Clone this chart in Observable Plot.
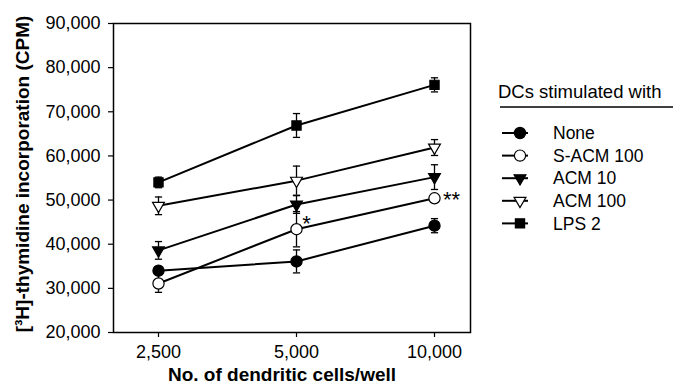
<!DOCTYPE html>
<html>
<head>
<meta charset="utf-8">
<script src="https://cdn.jsdelivr.net/npm/d3@7"></script>
<script src="https://cdn.jsdelivr.net/npm/@observablehq/plot@0.6"></script>
<style>
  html, body { margin: 0; padding: 0; background: white; }
</style>
</head>
<body>
<div id="chart"></div>
<script>
// ---- data ----
const doses = [2500, 5000, 10000];
const doseLabels = ["2,500", "5,000", "10,000"];
const yTicks = [20000, 30000, 40000, 50000, 60000, 70000, 80000, 90000];
const seriesNames = ["None", "S-ACM 100", "ACM 10", "ACM 100", "LPS 2"];

const noneVals = [34000, 36100, 44200];
const noneErr = [800, 2600, 1600];
const sacm100Vals = [31100, 43400, 50400];
const sacm100Err = [2000, 4000, 700];
const acm10Vals = [38600, 49000, 55200];
const acm10Err = [2000, 2000, 2800];
const acm100Vals = [48700, 54400, 61900];
const acm100Err = [2000, 3300, 1800];
const lps2Vals = [54000, 66900, 76100];
const lps2Err = [1200, 2700, 1600];

const sigLabels = ["", "*", "**"]; // S-ACM 100 significance marks

const yTitle = "[³H]-thymidine incorporation (CPM)";
const xTitle = "No. of dendritic cells/well";
const legendTitle = "DCs stimulated with";

// ---- styles per series ----
const shapes = ["circle", "circle", "triangle", "triangle", "square"];
const filled = [true, false, true, false, true];
const rotations = [0, 0, 180, 180, 0];
const radii = [5.6, 5.6, 4.4, 4.4, 5.2];

const allVals = [noneVals, sacm100Vals, acm10Vals, acm100Vals, lps2Vals];
const allErr = [noneErr, sacm100Err, acm10Err, acm100Err, lps2Err];

const rows = [];
seriesNames.forEach((s, si) => {
  doses.forEach((d, di) => {
    rows.push({
      dose: d, series: s, si,
      value: allVals[si][di],
      lo: allVals[si][di] - allErr[si][di],
      hi: allVals[si][di] + allErr[si][di]
    });
  });
});
const sigRows = doses.map((d, i) => ({dose: d, value: sacm100Vals[i], label: sigLabels[i]}))
  .filter(r => r.label !== "");

const capSymbol = {
  draw(context, size) {
    const w = Math.sqrt(size / Math.PI);
    context.moveTo(-w, 0);
    context.lineTo(w, 0);
  }
};

const FONT = "'Liberation Sans', Arial, Helvetica, sans-serif";

const markMarks = seriesNames.map((s, si) =>
  Plot.dot(rows.filter(r => r.si === si), {
    x: "dose", y: "value",
    symbol: shapes[si],
    r: radii[si],
    rotate: rotations[si],
    fill: filled[si] ? "black" : "white",
    stroke: "black",
    strokeWidth: 1.2
  })
);

const plot = Plot.plot({
  width: 673,
  height: 388,
  marginLeft: 113,
  marginRight: 203,
  marginTop: 23,
  marginBottom: 56,
  style: {fontFamily: FONT, fontSize: "18px", color: "black", background: "white"},
  x: {type: "point", domain: doses, range: [157, 434], padding: 0, label: null},
  y: {domain: [20000, 90000], label: null},
  marks: [
    Plot.axisY({ticks: yTicks, tickSize: 5, tickPadding: 8, tickFormat: d3.format(","), label: null, fontSize: 18, strokeWidth: 1.2}),
    Plot.axisX({tickSize: 5, tickPadding: 8, tickFormat: d => doseLabels[doses.indexOf(d)], label: null, fontSize: 18, strokeWidth: 1.2}),
    Plot.line(rows, {x: "dose", y: "value", z: "series", stroke: "black", strokeWidth: 2}),
    Plot.ruleX(rows, {x: "dose", y1: "lo", y2: "hi", stroke: "black", strokeWidth: 1.3}),
    Plot.dot(rows, {x: "dose", y: "lo", symbol: capSymbol, r: 3.6, stroke: "black", strokeWidth: 1.3, fill: "none"}),
    Plot.dot(rows, {x: "dose", y: "hi", symbol: capSymbol, r: 3.6, stroke: "black", strokeWidth: 1.3, fill: "none"}),
    ...markMarks,
    Plot.text(sigRows.filter(r => r.label.length === 1), {x: "dose", y: "value", text: "label", dx: 10, dy: -5, fontSize: 22}),
    Plot.text(sigRows.filter(r => r.label.length === 2), {x: "dose", y: "value", text: "label", dx: 17, dy: 2, fontSize: 22, letterSpacing: 1.5}),
    Plot.frame({stroke: "black", strokeWidth: 1.5}),
    Plot.text([yTitle], {text: d => d, frameAnchor: "left", textAnchor: "middle", dx: -91, dy: -4, rotate: -90, fontWeight: "bold", fontSize: 19}),
    Plot.text([xTitle], {text: d => d, frameAnchor: "bottom", textAnchor: "middle", dx: -10, dy: 48, fontWeight: "bold", fontSize: 19})
  ]
});

// ---- legend (drawn into the same svg) ----
const svg = d3.select(plot);
const lg = svg.append("g").attr("font-family", FONT).attr("fill", "black").attr("text-anchor", "start");
lg.append("text").attr("x", 498).attr("y", 92).attr("dy", "0.35em").attr("font-size", 18.5).text(legendTitle);
lg.append("line").attr("x1", 500).attr("x2", 673).attr("y1", 107).attr("y2", 107).attr("stroke", "black").attr("stroke-width", 1.5);
const d3Shapes = {circle: d3.symbolCircle, triangle: d3.symbolTriangle, square: d3.symbolSquare};
seriesNames.forEach((s, si) => {
  const y = 133 + si * 22.6;
  lg.append("line").attr("x1", 502).attr("x2", 528).attr("y1", y).attr("y2", y).attr("stroke", "black").attr("stroke-width", 2);
  lg.append("path")
    .attr("d", d3.symbol(d3Shapes[shapes[si]], radii[si] * radii[si] * Math.PI)())
    .attr("transform", `translate(520,${y}) rotate(${rotations[si]})`)
    .attr("fill", filled[si] ? "black" : "white")
    .attr("stroke", "black").attr("stroke-width", 1.2);
  lg.append("text").attr("x", 553).attr("y", y).attr("dy", "0.35em").attr("font-size", 17.5).text(s);
});

document.getElementById("chart").appendChild(plot);
</script>
</body>
</html>
